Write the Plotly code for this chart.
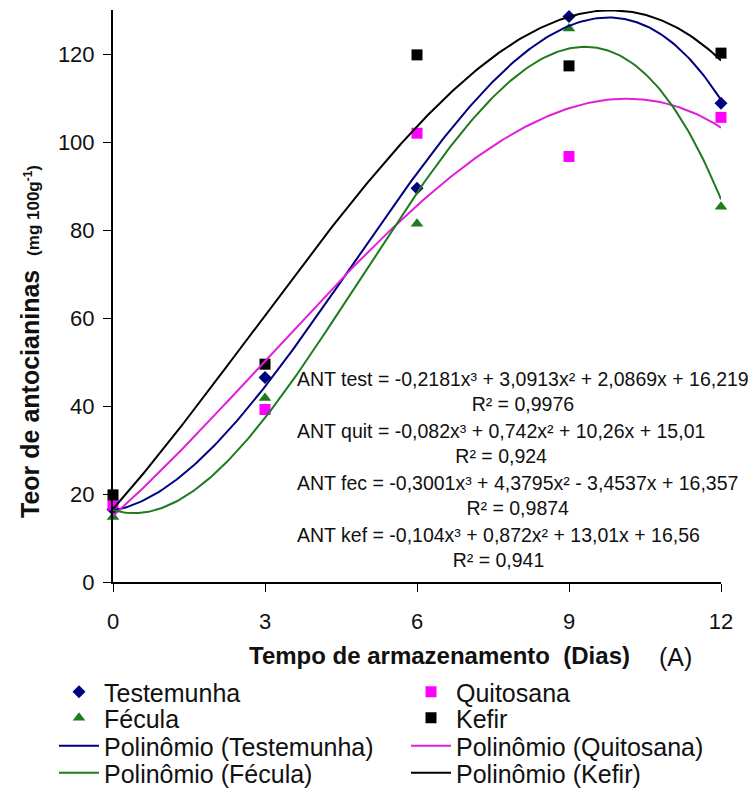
import numpy as np
import plotly.graph_objects as go

# ---- data ----
dias = [0, 3, 6, 9, 12]
testemunha = [16.5, 46.5, 89.5, 128.5, 108.8]
quitosana = [17.5, 39.2, 102.0, 96.7, 105.6]
fecula = [14.8, 41.8, 81.4, 125.8, 85.3]
kefir = [19.8, 49.5, 119.8, 117.3, 120.2]

# trend-line coefficients printed on the chart (c3, c2, c1, c0)
coef_test = [-0.2181, 3.0913, 2.0869, 16.219]
coef_quit = [-0.082, 0.742, 10.26, 15.01]
coef_fec = [-0.3001, 4.3795, -3.4537, 16.357]
coef_kef = [-0.104, 0.872, 13.01, 16.56]

eq_texts = [
    "ANT test = -0,2181x³ + 3,0913x² + 2,0869x + 16,219<br>R² = 0,9976",
    "ANT quit = -0,082x³ + 0,742x² + 10,26x + 15,01<br>R² = 0,924",
    "ANT fec = -0,3001x³ + 4,3795x² - 3,4537x + 16,357<br>R² = 0,9874",
    "ANT kef = -0,104x³ + 0,872x² + 13,01x + 16,56<br>R² = 0,941",
]
x_ticks = [0, 3, 6, 9, 12]
y_ticks = [0, 20, 40, 60, 80, 100, 120]

NAVY = "#000080"
MAGENTA = "#FF00FF"
GREEN = "#1E7B1E"
BLACK = "#000000"
FONT = "Liberation Sans, Arial, sans-serif"

xs = np.linspace(0, 12, 241)

# page has an 8px body margin: figure is drawn from (8, 8)
OFF = 8
W, H = 756 - OFF, 791 - OFF
L, R, T, B = 105, 35, 2, 209
pw, ph = W - L - R, H - T - B

def rx(px):  # reference pixel x -> paper x
    return (px - OFF - L) / pw

def ry(py):  # reference pixel y -> paper y
    return (H - B - (py - OFF)) / ph

fig = go.Figure()
fig.add_trace(go.Scatter(x=dias, y=testemunha, mode="markers", name="Testemunha", legend="legend",
                         marker=dict(symbol="diamond", size=10, color=NAVY), cliponaxis=False))
fig.add_trace(go.Scatter(x=dias, y=quitosana, mode="markers", name="Quitosana", legend="legend",
                         marker=dict(symbol="square", size=11, color=MAGENTA), cliponaxis=False))
fig.add_trace(go.Scatter(x=dias, y=fecula, mode="markers", name="Fécula", legend="legend2",
                         marker=dict(symbol="triangle-up", size=11, color=GREEN), cliponaxis=False))
fig.add_trace(go.Scatter(x=dias, y=kefir, mode="markers", name="Kefir", legend="legend2",
                         marker=dict(symbol="square", size=11, color=BLACK), cliponaxis=False))

for coef, nm, col, lg in [(coef_test, "Polinômio (Testemunha)", NAVY, "legend3"),
                          (coef_quit, "Polinômio (Quitosana)", "#E020D8", "legend3"),
                          (coef_fec, "Polinômio (Fécula)", GREEN, "legend4"),
                          (coef_kef, "Polinômio (Kefir)", BLACK, "legend4")]:
    fig.add_trace(go.Scatter(x=xs, y=np.polyval(coef, xs), mode="lines", name=nm, legend=lg,
                             line=dict(color=col, width=2), cliponaxis=False))

ann = []
eq_y = [391.5, 443.5, 495, 547.5]
for t, yy in zip(eq_texts, eq_y):
    ann.append(dict(x=rx(295), y=ry(yy), xref="paper", yref="paper", text=t,
                    showarrow=False, xanchor="left", yanchor="middle", align="center",
                    font=dict(family=FONT, size=19.5, color="#111")))
ann.append(dict(x=rx(439), y=ry(655), xref="paper", yref="paper",
                text="<b>Tempo de armazenamento  (Dias)</b>", showarrow=False,
                xanchor="center", yanchor="middle",
                font=dict(family=FONT, size=24, color="#111")))
ann.append(dict(x=rx(675), y=ry(657), xref="paper", yref="paper",
                text="(A)", showarrow=False, xanchor="center", yanchor="middle",
                font=dict(family=FONT, size=25, color="#111")))
ann.append(dict(x=rx(30), y=ry(342), xref="paper", yref="paper",
                text="<b>Teor de antocianinas</b>  <b><span style='font-size:17px'>(mg 100g<sup>-1</sup>)</span></b>",
                showarrow=False, textangle=-90, xanchor="center", yanchor="middle",
                font=dict(family=FONT, size=25, color="#111")))

def leg(yref_px):
    return dict(orientation="h", x=rx(54), y=ry(yref_px), xanchor="left", yanchor="middle",
                xref="paper", yref="paper",
                entrywidth=297, entrywidthmode="pixels", traceorder="normal",
                font=dict(family=FONT, size=25, color="#111"), itemwidth=40,
                bgcolor="rgba(0,0,0,0)")

fig.update_layout(
    width=W, height=H,
    margin=dict(l=L, r=R, t=T, b=B, autoexpand=False),
    paper_bgcolor="white", plot_bgcolor="white",
    font=dict(family=FONT, color="#111"),
    showlegend=True,
    legend=leg(692), legend2=leg(718), legend3=leg(746), legend4=leg(773),
    annotations=ann,
)
fig.update_xaxes(range=[0, 12], tickvals=x_ticks, ticks="outside", ticklen=8, tickcolor="black",
                 showline=True, linecolor="black", linewidth=2, showgrid=False, zeroline=False,
                 ticklabelstandoff=11,
                 tickfont=dict(family=FONT, size=22, color="#111"), fixedrange=True)
fig.update_yaxes(range=[0, 130], tickvals=y_ticks, ticks="outside", ticklen=8, tickcolor="black",
                 showline=True, linecolor="black", linewidth=2, showgrid=False, zeroline=False,
                 ticklabelstandoff=4,
                 tickfont=dict(family=FONT, size=22, color="#111"), fixedrange=True)

fig.write_html("out.html")
